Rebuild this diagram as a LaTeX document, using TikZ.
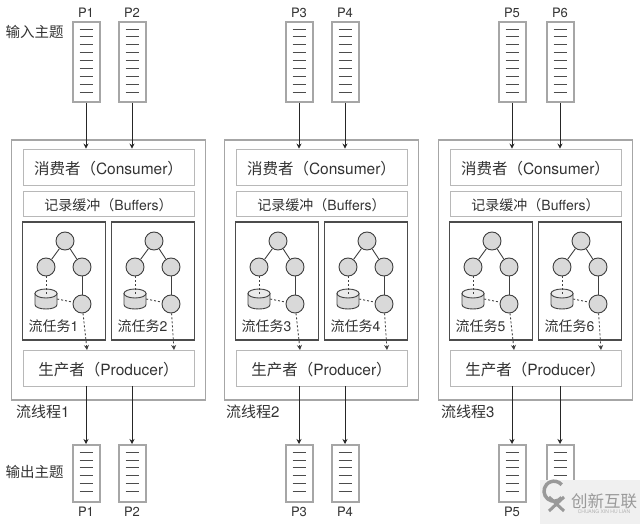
\documentclass[tikz,border=0pt]{standalone}
\usepackage{fontspec}
\setmainfont{TeX Gyre Heros}
\newfontfamily\cjk{Noto Sans CJK SC}
\usepackage{tikz}
\usetikzlibrary{arrows.meta, calc, positioning}
\newcommand{\fs}[1]{\fontsize{#1}{#1}\selectfont}
\newcommand{\low}[1]{\raisebox{-1.5pt}[\height][\depth]{#1}}
\tikzset{threadbox/.style={draw=black!35,line width=1.6pt,minimum width=194pt,minimum height=260pt},
    clientbox/.style={draw=black!28,line width=0.9pt,minimum width=171pt},
    taskbox/.style={draw=black!70,line width=1.6pt,minimum width=83pt,minimum height=118pt},
    topicbox/.style={draw=black!35,line width=2pt,minimum width=27pt},
    msgline/.style={black!70,line width=0.8pt},
    opnode/.style={circle,draw=black!75,fill=black!15,line width=0.9pt,minimum size=18pt,inner sep=0pt},
    storenode/.style={inner sep=0pt,minimum width=22pt,minimum height=20pt},
    storeside/.style={draw=black!75,fill=black!15,line width=0.9pt},
    storetop/.style={draw=black!75,fill=black!8,line width=0.9pt},
    flow/.style={-{Stealth[length=5pt,width=5pt]},black!85,line width=0.8pt},
    solidedge/.style={black!75,line width=0.9pt},
    dashedge/.style={black!75,line width=0.9pt,dash pattern=on 2pt off 2pt},
    dashflow/.style={dashedge,-{Stealth[length=5pt,width=5pt]}}}

\begin{document}
\begin{tikzpicture}[x=1pt, y=-1pt, every node/.style={text=black!80}]
    \useasboundingbox (0,0) rectangle (640,524);

    % Stream threads
    \foreach \n/\ox/\nx in {1/0/16,2/213/13,3/427/14} {
        \begin{scope}[xshift=\ox]
            \node[threadbox] (thread\n) at (108.5,270) {};
            \node[clientbox, minimum height=36pt, font=\fs{15.5}] (cons\n) at (108.5,167) {\low{{\cjk 消费者（}Consumer{\cjk ）}}};
            \node[clientbox, minimum height=25pt, font=\fs{14}] (buf\n) at (108.5,203.5) {\low{{\cjk 记录缓冲（}Buffers{\cjk ）}}};
            \node[clientbox, minimum height=36pt, font=\fs{15.5}] (prod\n) at (108.5,368) {\low{{\cjk 生产者（}Producer{\cjk ）}}};
            \node[anchor=north west, inner sep=0pt, font=\fs{15}] (name\n) at (\nx,404.5) {{\cjk 流线程}\n};
        \end{scope}
    }

    % Stream tasks
    \foreach \k/\tx/\ex in {1/22.5/5,2/111.5/3,3/235.5/5,4/324.5/3,5/449.5/5,6/538.5/3} {
        \begin{scope}[xshift=\tx]
            \node[taskbox] (task\k) at (41.5,281) {};
            \node[opnode] (top\k) at (42.5,241) {};
            \node[opnode] (left\k) at (23.5,267) {};
            \node[opnode] (right\k) at (59.5,267) {};
            \node[opnode] (sink\k) at (59.5,304) {};
            \node[storenode] (store\k) at (23.5,299) {};
            \draw[storeside] (12.5,293.5) -- (12.5,304.5) .. controls (12.5,310.5) and (34.5,310.5) .. (34.5,304.5) -- (34.5,293.5) -- cycle;
            \draw[storetop] (23.5,293.5) ellipse [x radius=11, y radius=4.5];
            \node[anchor=west, inner sep=0pt, font=\fs{14}] (label\k) at (6,326) {{\cjk 流任务}\k};
            \coordinate (out\k) at (59.5+\ex,350);
            \draw[solidedge] (top\k) -- (left\k);
            \draw[solidedge] (top\k) -- (right\k);
            \draw[solidedge] (right\k) -- (sink\k);
            \draw[dashedge, shorten >=3pt] (left\k) -- (store\k.center);
            \draw[dashedge] (store\k.east) -- (sink\k);
            \draw[dashflow] (sink\k) -- (out\k);
        \end{scope}
    }

    % Input and output topics
    \foreach \p/\tx/\n in {1/86/1,2/132/1,3/299/2,4/345/2,5/512/3,6/560/3} {
        \node[topicbox, minimum height=80pt] (in\p) at (\tx,62) {};
        \node[above=3pt of in\p, inner sep=0pt, font=\fs{13}] (inlabel\p) {P\p};
        \foreach \j in {0,...,8} \draw[msgline] ($(in\p.north)+(-6.5,8+7.9*\j)$) -- +(13,0);
        \node[topicbox, minimum height=57pt] (res\p) at (\tx,473.5) {};
        \foreach \j in {0,...,5} \draw[msgline] ($(res\p.north)+(-6.5,8+7.9*\j)$) -- +(13,0);
        \draw[flow] (in\p.south) -- (in\p.south |- cons\n.north);
        \draw[flow] (res\p.north |- prod\n.south) -- (res\p.north);
    }
    \foreach \p in {1,...,5} \node[below=4pt of res\p, inner sep=0pt, font=\fs{13}] (reslabel\p) {P\p};

    \node[font=\fs{14.5}] (intopic) at (34.5,32) {\cjk 输入主题};
    \node[font=\fs{14.5}] (outtopic) at (34.5,472) {\cjk 输出主题};

    % Corner mark
    \fill[black!6] (540,480) rectangle (640,524);
    \draw[black!40, line width=3.5pt] (561.7,497.6) arc (40:320:10);
    \draw[black!40, line width=3pt] (549,497) -- (564,511) (549,511) -- (564,497);
    \node[text=black!40, font=\fs{16.5}, inner sep=0pt] (markname) at (604,501) {\cjk 创新互联};
    \node[text=black!30, font=\fs{5}, inner sep=0pt] (marksub) at (604,512) {CHUANG XIN HU LIAN};
\end{tikzpicture}
\end{document}
